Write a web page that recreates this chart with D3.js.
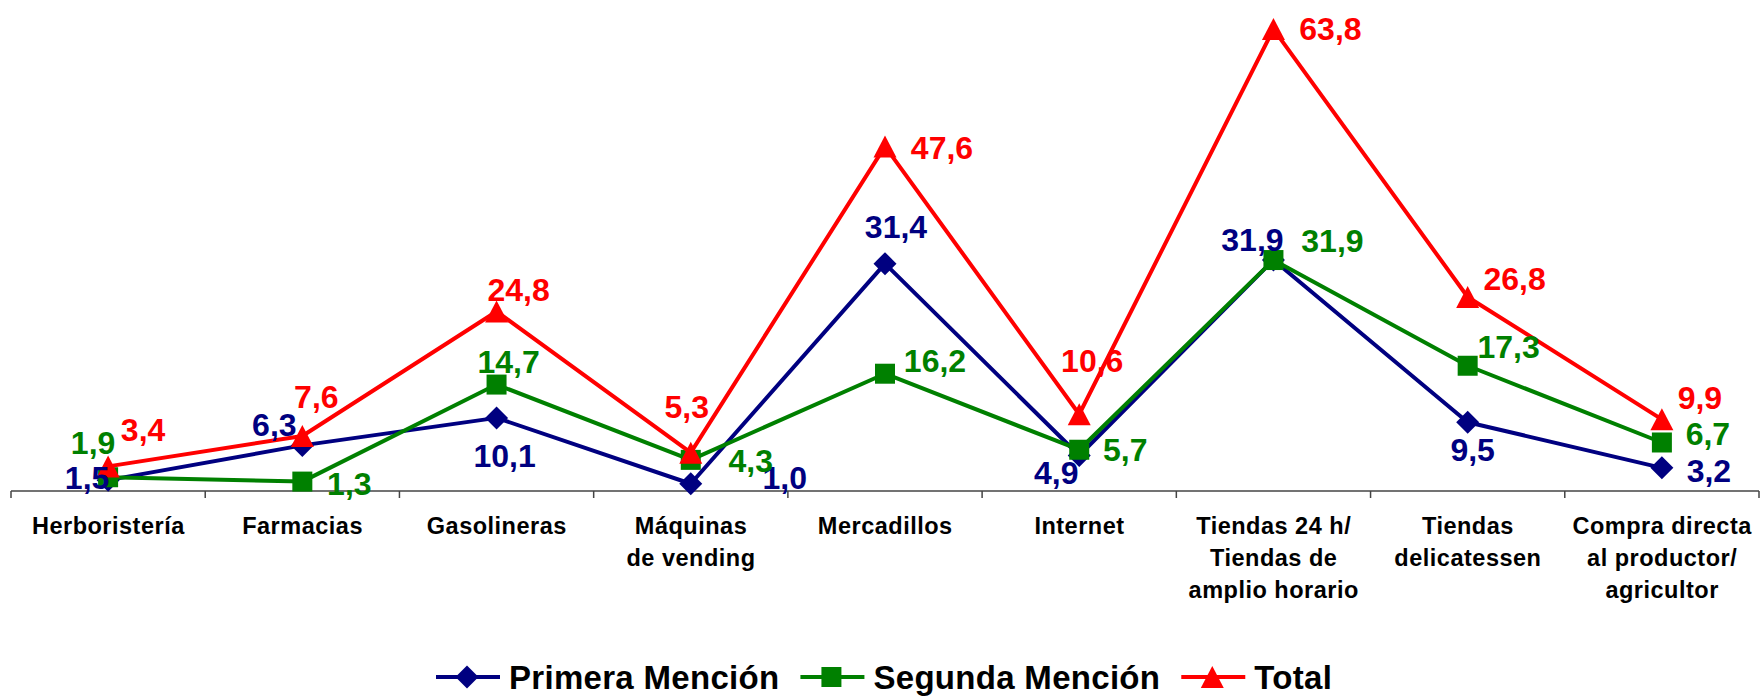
<!DOCTYPE html>
<html lang="es">
<head>
<meta charset="utf-8">
<title>Lugares de compra</title>
<script src="https://cdn.jsdelivr.net/npm/d3@7"></script>
<style>
  html, body { margin: 0; padding: 0; background: #fff; }
  svg { display: block; font-family: "Liberation Sans", Arial, sans-serif; font-weight: bold; }
</style>
</head>
<body>
<svg id="chart" width="1762" height="696"></svg>
<script>
// Canales de compra (etiquetas del eje, con saltos de línea)
const categories = [
  "Herboristería",
  "Farmacias",
  "Gasolineras",
  "Máquinas\nde vending",
  "Mercadillos",
  "Internet",
  "Tiendas 24 h/\nTiendas de\namplio horario",
  "Tiendas\ndelicatessen",
  "Compra directa\nal productor/\nagricultor"
];

// Porcentajes por serie
const primeraMencion = [1.5, 6.3, 10.1, 1.0, 31.4, 4.9, 31.9, 9.5, 3.2];
const segundaMencion = [1.9, 1.3, 14.7, 4.3, 16.2, 5.7, 31.9, 17.3, 6.7];
const total          = [3.4, 7.6, 24.8, 5.3, 47.6, 10.6, 63.8, 26.8, 9.9];

const seriesNames = ["Primera Mención", "Segunda Mención", "Total"];
const seriesColors = ["#000080", "#008000", "#FF0000"];
const seriesSymbols = ["diamond", "square", "triangle"];

// Desplazamiento de cada etiqueta de valor respecto a su punto [dx, dy]
const labelOffsets = [
  [[-21, -3], [-28, -21], [8, 38], [94, -6], [11, -37], [-23, 17], [-21, -21], [5, 27], [47, 3]],
  [[-15, -35], [47, 2], [12, -23], [60, 1], [50, -13], [46, 0], [59, -20], [41, -19], [46, -9]],
  [[35, -37], [14, -39], [22, -22], [-4, -46], [57, 1], [13, -54], [57, -1], [47, -18], [38, -22]]
];

const seriesValues = [primeraMencion, segundaMencion, total];

const svg = d3.select("#chart");

// Escalas
const axisY = 491;
const pxPerUnit = 7.24;
const x = d3.scaleBand().domain(categories).range([11, 1759]).padding(0);
const y = d3.scaleLinear().domain([0, 70]).range([axisY, axisY - 70 * pxPerUnit]);
const cx = c => x(c) + x.bandwidth() / 2;

const fmt = v => d3.format(".1f")(v).replace(".", ",");

// Eje de categorías
const axisG = svg.append("g").attr("class", "x-axis");
axisG.append("line")
  .attr("x1", x.range()[0]).attr("x2", x.range()[1])
  .attr("y1", axisY).attr("y2", axisY)
  .attr("stroke", "#444").attr("stroke-width", 1.5);

const boundaries = categories.map(c => x(c)).concat([x.range()[1]]);
axisG.selectAll("line.tick")
  .data(boundaries)
  .join("line")
  .attr("class", "tick")
  .attr("x1", d => d).attr("x2", d => d)
  .attr("y1", axisY).attr("y2", axisY + 7)
  .attr("stroke", "#444").attr("stroke-width", 1.5);

const catFont = 23.5;
const catSpacing = 0.5;
const catLabels = axisG.selectAll("text.cat")
  .data(categories)
  .join("text")
  .attr("class", "cat")
  .attr("text-anchor", "middle")
  .attr("font-size", catFont)
  .attr("letter-spacing", catSpacing + "px")
  .attr("fill", "#000");
catLabels.each(function(d) {
  const lines = d.split("\n");
  d3.select(this).selectAll("tspan")
    .data(lines)
    .join("tspan")
    .attr("x", cx(d) + catSpacing / 2)
    .attr("y", (l, i) => 533.5 + i * 32)
    .text(l => l);
});

// Símbolos
function symbolPath(type) {
  if (type === "diamond") return "M0,-11.5L11.5,0L0,11.5L-11.5,0Z";
  if (type === "square") return "M-10,-10H10V10H-10Z";
  return "M0,-11L11.5,11H-11.5Z";
}

// Series: línea y marcadores
const line = d3.line()
  .x((d, i) => cx(categories[i]))
  .y(d => y(d));

seriesValues.forEach((vals, s) => {
  const g = svg.append("g").attr("class", "series s" + s);
  g.append("path")
    .datum(vals)
    .attr("d", line)
    .attr("fill", "none")
    .attr("stroke", seriesColors[s])
    .attr("stroke-width", 4)
    .attr("stroke-linejoin", "round");
  g.selectAll("path.marker")
    .data(vals)
    .join("path")
    .attr("class", "marker")
    .attr("d", symbolPath(seriesSymbols[s]))
    .attr("transform", (d, i) => `translate(${cx(categories[i])},${y(d)})`)
    .attr("fill", seriesColors[s]);
});

// Etiquetas de valor
const valFont = 32;
seriesValues.forEach((vals, s) => {
  svg.append("g").attr("class", "labels l" + s)
    .selectAll("text")
    .data(vals)
    .join("text")
    .attr("x", (d, i) => cx(categories[i]) + labelOffsets[s][i][0])
    .attr("y", (d, i) => y(d) + labelOffsets[s][i][1] + valFont * 0.358)
    .attr("text-anchor", "middle")
    .attr("font-size", valFont)
    .attr("fill", seriesColors[s])
    .text(d => fmt(d));
});

// Leyenda
const legend = svg.append("g").attr("class", "legend");
const legY = 677;
const legFont = 33;
let lx = 436;
seriesNames.forEach((name, s) => {
  const item = legend.append("g");
  item.append("line")
    .attr("x1", lx).attr("x2", lx + 64)
    .attr("y1", legY).attr("y2", legY)
    .attr("stroke", seriesColors[s]).attr("stroke-width", 4);
  item.append("path")
    .attr("d", symbolPath(seriesSymbols[s]))
    .attr("transform", `translate(${lx + 31},${legY})`)
    .attr("fill", seriesColors[s]);
  const t = item.append("text")
    .attr("x", lx + 73)
    .attr("y", legY + legFont * 0.358)
    .attr("font-size", legFont)
    .attr("letter-spacing", "0.3px")
    .attr("fill", "#000")
    .text(name);
  lx = lx + 73 + t.node().getComputedTextLength() + 21;
});
</script>
</body>
</html>
